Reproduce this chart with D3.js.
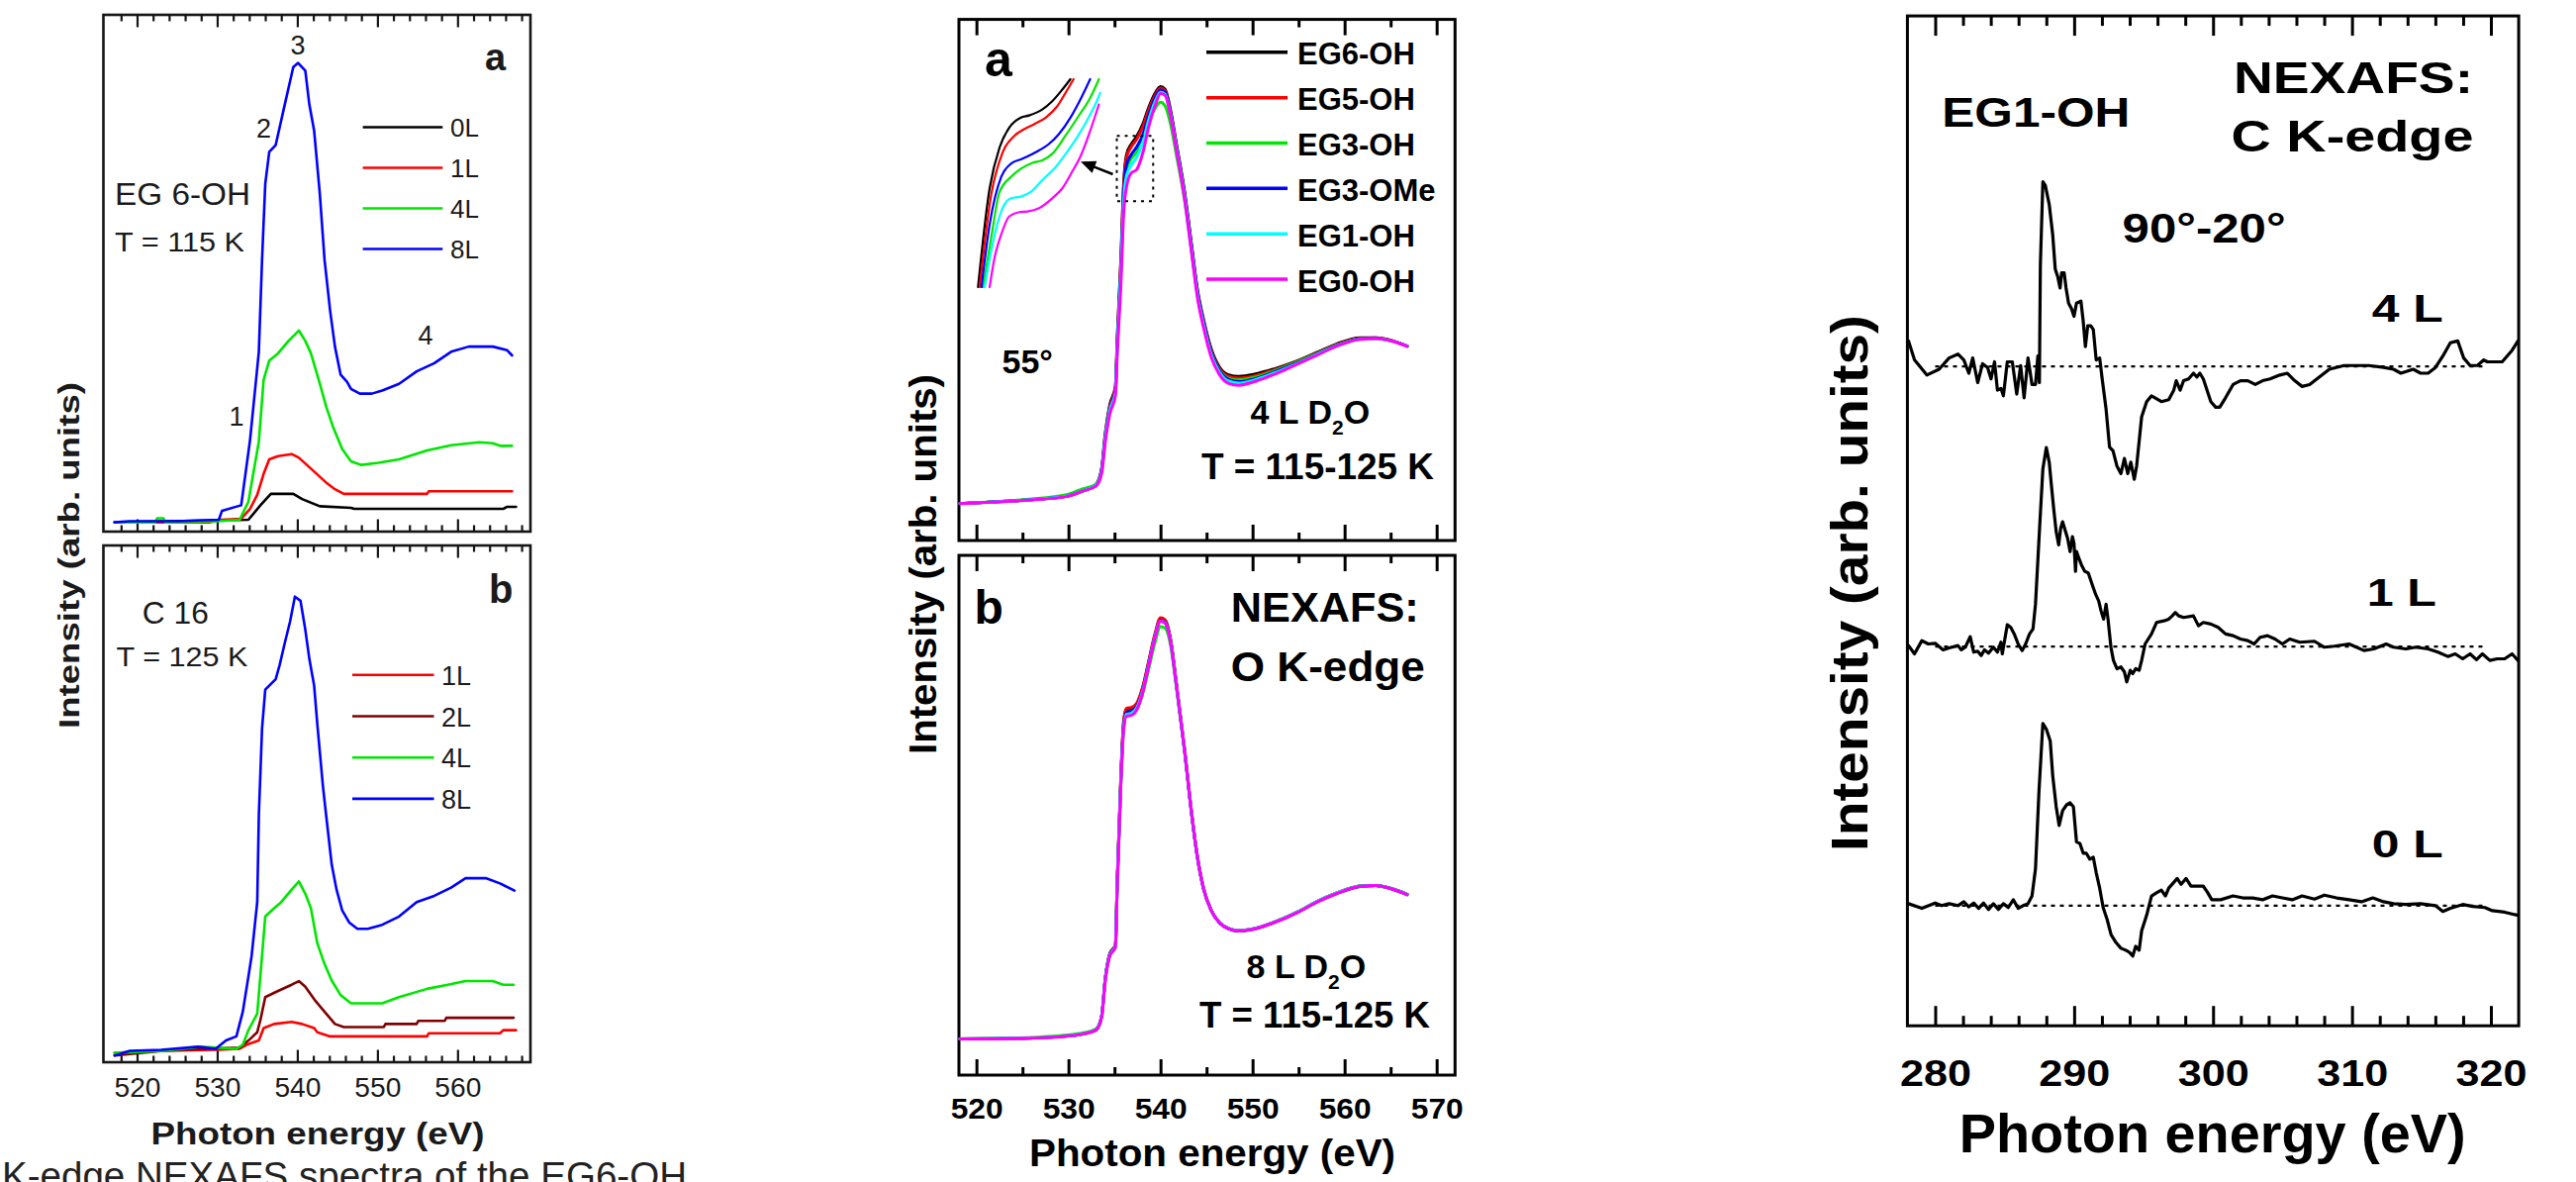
<!DOCTYPE html>
<html><head><meta charset="utf-8">
<script src="https://cdn.jsdelivr.net/npm/d3@7"></script>
<style>html,body{margin:0;padding:0;background:#fff;} svg{display:block;}</style>
</head><body>
<script>
// ================= DATA =================
// ---- Left figure: O K-edge NEXAFS, (a) EG6-OH, T=115 K ; (b) C16, T=125 K ----
const leftTopNames  = ["0L","1L","4L","8L"];
const leftTopColors = ["#000000","#ff0000","#00e600","#0000ff"];
const eg6_0L = [[517.2,1.8],[533.9,2.3],[535.4,5.1],[536.7,7.3],[539.5,7.3],[540.6,6.3],[542.8,4.9],[546.7,4.6],[547.1,4.4],[565.7,4.4],[566.2,4.8],[567.3,4.8]];
const eg6_1L = [[517.2,1.8],[529,1.8],[530.5,2.3],[533.0,2.5],[534.1,4.4],[535.0,7.1],[535.8,11.2],[536.5,14.0],[537.6,14.6],[539.3,15.0],[540.2,14.3],[541.9,11.9],[543.6,9.5],[544.7,8.2],[545.8,7.3],[556.2,7.3],[556.4,7.8],[566.8,7.8]];
const eg6_4L = [[517.2,1.8],[522.3,1.8],[522.5,2.6],[523.3,2.6],[523.5,1.8],[530,2.0],[532.8,2.3],[533.9,5.8],[534.5,11.2],[535.2,17.4],[535.8,29.4],[536.5,33.1],[537.6,34.5],[538.9,36.9],[540.2,38.9],[541.0,36.9],[541.7,34.5],[542.8,28.7],[543.6,24.2],[544.5,20.1],[545.6,16.0],[546.7,13.6],[548.0,12.9],[550.1,13.3],[552.7,14.0],[556.2,15.7],[559.2,16.7],[562.7,17.3],[564.4,17.1],[565.3,16.6],[566.8,16.6]];
const eg6_8L = [[517.2,1.8],[519,2.0],[525,2.0],[530.2,2.3],[530.6,4.0],[533.0,5.1],[534.1,17.7],[535.2,34.8],[535.6,52.6],[536.0,67.3],[536.5,73.5],[537.3,74.8],[538.4,82.4],[539.5,89.9],[540.1,90.7],[541.0,89.2],[541.5,82.7],[542.1,77.6],[542.8,65.6],[543.4,52.6],[544.1,42.7],[544.7,35.8],[545.4,30.4],[546.2,29.0],[546.7,27.6],[547.8,26.7],[549.3,26.7],[550.6,27.3],[552.7,28.6],[554.9,31.0],[557.1,32.6],[559.2,34.8],[561.4,35.8],[564.4,35.8],[566.2,35.1],[566.8,34.1]];

const leftBotNames  = ["1L","2L","4L","8L"];
const leftBotColors = ["#ff0000","#800000","#00e600","#0000ff"];
const c16_1L = [[517.2,1.8],[523.3,2.2],[529.8,2.4],[532.8,2.6],[533.7,3.4],[535.2,4.2],[535.8,6.6],[537.1,7.4],[539.3,7.8],[540.6,7.4],[542.1,6.6],[542.5,5.8],[544.1,5.0],[556.2,5.0],[556.4,5.6],[565.3,5.6],[565.7,6.2],[567.3,6.2]];
const c16_2L = [[517.2,1.3],[523.3,2.2],[528,2.6],[532.8,2.8],[533.9,4.2],[535.0,5.8],[535.4,8.2],[536.0,12.6],[537.6,13.8],[539.3,15.0],[540.2,15.7],[541,14.6],[542.3,11.8],[543.6,9.4],[544.7,7.4],[545.8,6.8],[550.8,6.8],[551,7.4],[554.9,7.4],[555.1,8.0],[558.4,8.0],[558.6,8.6],[567,8.6]];
const c16_4L = [[517.2,1.8],[523.3,2.2],[528,3.0],[532.4,2.6],[533.2,3.4],[533.9,6.2],[535.0,9.4],[535.6,20.6],[536.0,28.2],[537.1,29.8],[538,31.0],[539.3,33.4],[540.2,35.0],[541.0,32.6],[541.7,29.8],[542.5,23.0],[543.4,19.0],[544.3,15.8],[545.4,13.0],[546.7,11.4],[550.6,11.4],[552.7,12.6],[556.2,14.2],[558.8,15.0],[561,15.7],[564.4,15.7],[565.7,15.0],[567,15.0]];
const c16_8L = [[517.2,1.3],[519.1,2.2],[523,2.4],[527.6,3.0],[529.8,2.6],[531.1,4.2],[532.4,5.0],[533.2,9.8],[533.9,16.6],[534.3,20.6],[535.0,31.0],[535.2,47.8],[535.6,64.6],[536.0,72.1],[537.3,74.1],[537.8,76.9],[538.4,80.9],[539.1,85.3],[539.7,90.1],[540.4,89.3],[541.0,83.7],[541.5,78.1],[542.1,72.9],[542.5,65.4],[543.2,53.4],[543.6,47.8],[544.3,38.2],[544.9,33.4],[545.6,29.4],[546.5,27.0],[547.5,25.8],[548.8,25.8],[550.6,26.6],[552.7,28.2],[554.9,31.0],[557.1,32.2],[559.2,33.8],[561.0,35.6],[563.6,35.6],[565.3,34.6],[567.1,33.2]];
const leftTicksMajor = [520,530,540,550,560];
const leftTicksMinor = [518,522,524,526,528,532,534,536,538,542,544,546,548,552,554,556,558,562,564,566,568];

// ---- Middle figure: O K-edge, (a) 4 L D2O, (b) 8 L D2O ----
const midNames  = ["EG6-OH","EG5-OH","EG3-OH","EG3-OMe","EG1-OH","EG0-OH"];
const midColors = ["#000000","#ff0000","#00e600","#0000ff","#00ffff","#ff00ff"];
const midEnergy = [518.2,525.5,529.8,531.5,533.0,533.6,534.0,534.5,535.1,535.3,535.7,536.0,536.3,536.8,537.4,538.1,538.7,539.4,540.0,540.5,541.1,541.7,542.6,543.4,544.0,544.7,545.5,546.4,547.4,548.5,550.2,552.3,554.9,557.0,559.1,561.7,563.4,565.1,566.8];
const a_EG6OH  = [7.1,7.8,8.5,9.5,10.8,13.8,20.6,26.1,29.6,38.9,54.2,68.5,74.0,76.0,77.5,80.0,83.0,85.8,87.1,86.6,82.5,76.4,67.1,56.4,48.3,42.2,36.8,33.3,31.8,31.5,31.9,32.9,34.5,36.1,37.7,38.9,38.9,38.4,37.3];
const a_EG5OH  = [7.1,7.8,8.5,9.5,10.7,13.6,20.3,25.8,29.3,38.4,53.6,68.0,73.5,75.5,77.0,79.5,82.6,85.4,86.8,86.3,82.2,76.1,66.8,56.1,48.0,41.9,36.5,33.0,31.5,31.2,31.6,32.7,34.4,36.0,37.6,38.8,38.9,38.4,37.3];
const a_EG3OH  = [7.1,7.9,8.8,9.9,10.8,13.3,19.7,25.2,28.6,37.3,52.0,66.0,71.0,73.2,74.5,77.0,80.2,82.9,84.1,83.4,79.8,74.2,65.4,55.0,47.2,41.3,36.0,32.7,31.1,30.8,31.3,32.5,34.3,35.9,37.5,38.7,38.8,38.3,37.3];
const a_EG3OMe = [7.1,7.8,8.5,9.5,10.6,13.4,19.9,25.3,28.8,37.6,52.3,66.5,72.0,74.0,75.5,78.0,81.6,84.9,86.5,86.0,81.9,75.8,66.5,55.8,47.7,41.6,36.1,32.6,30.9,30.5,31.0,32.3,34.1,35.8,37.4,38.7,38.8,38.3,37.3];
const a_EG1OH  = [7.1,7.8,8.5,9.5,10.6,13.2,19.6,25.0,28.4,37.0,51.5,65.0,70.0,72.0,73.5,76.5,80.6,84.2,86.0,85.6,81.6,75.6,66.2,55.4,47.3,41.2,35.7,32.3,30.6,30.2,30.8,32.1,34.0,35.7,37.3,38.6,38.7,38.3,37.3];
const a_EG0OH  = [7.08,7.75,8.43,9.46,10.47,12.84,18.94,24.37,27.77,35.9,49.47,63.03,67.78,70.5,71.17,74.56,79.31,83.38,85.75,85.41,81.34,75.24,65.75,54.9,46.75,40.65,35.22,31.84,30.15,29.8,30.49,31.84,33.87,35.56,37.25,38.62,38.75,38.28,37.25];
const b_EG6OH  = [6.95,7.1,7.5,7.9,8.75,11.3,18.6,23.4,25.0,37.4,57.6,68.0,70.4,70.5,71.3,74.7,79.3,84.7,87.8,87.4,83.7,75.6,62.8,50.1,42.1,35.8,31.8,29.4,28.2,27.8,28.2,29.4,31.4,33.4,35.0,36.4,36.5,35.9,34.8];
const b_EG5OH  = [6.95,7.1,7.5,7.9,8.75,11.3,18.6,23.4,25.0,37.5,57.8,68.2,70.6,70.7,71.5,74.9,79.5,84.9,88.0,87.6,83.8,75.7,62.9,50.2,42.2,35.8,31.8,29.4,28.2,27.8,28.2,29.4,31.4,33.4,35.0,36.4,36.5,35.9,34.8];
const b_EG3OH  = [7.0,7.2,7.7,8.1,8.9,11.3,18.5,23.2,24.8,36.9,56.7,67.0,69.4,69.6,70.3,73.6,78.0,83.2,86.3,86.0,82.6,74.9,62.4,49.8,41.9,35.6,31.7,29.4,28.2,27.8,28.2,29.4,31.4,33.4,35.0,36.4,36.5,35.9,34.8];
const b_EG3OMe = [6.95,7.1,7.5,7.9,8.7,11.2,18.5,23.2,24.8,37.0,57.0,67.3,69.8,70.0,70.9,74.3,79.0,84.4,87.5,87.1,83.4,75.4,62.7,50.0,42.0,35.7,31.7,29.3,28.1,27.7,28.1,29.3,31.3,33.3,34.9,36.3,36.5,35.8,34.7];
const b_EG1OH  = [6.95,7.1,7.5,7.9,8.7,11.2,18.4,23.1,24.7,36.8,56.8,67.0,69.4,69.6,70.6,74.1,78.8,84.3,87.4,87.0,83.4,75.5,62.8,50.1,42.1,35.8,31.8,29.4,28.2,27.8,28.2,29.4,31.4,33.4,35.0,36.4,36.5,35.9,34.8];
const b_EG0OH  = [6.93,7.09,7.49,7.88,8.69,11.07,18.21,22.98,24.57,36.48,56.34,66.67,69.05,69.2,70.25,73.81,78.59,84.14,87.31,86.93,83.35,75.41,62.7,49.98,42.04,35.7,31.7,29.33,28.15,27.75,28.15,29.33,31.32,33.31,34.9,36.32,36.48,35.85,34.74];
// magnified inset of the shoulder region (energy, intensity)
const insetBoxE = [535.25, 539.2];
const insetBoxI = [65.1, 77.64];
const inset_EG6OH  = [[535.30,65.2],[535.67,71.06],[535.99,73.5],[536.30,74.67],[536.67,75.26],[536.93,75.39],[537.35,75.74],[537.67,76.23],[537.99,76.92],[538.25,77.54]];
const inset_EG5OH  = [[535.35,65.2],[535.72,70.67],[536.09,73.21],[536.46,74.18],[536.77,74.57],[537.09,74.87],[537.46,75.26],[537.83,75.94],[538.09,76.72],[538.35,77.54]];
const inset_EG3OH  = [[535.46,65.2],[535.72,68.13],[535.99,70.86],[536.35,71.74],[536.67,72.23],[537.04,72.58],[537.35,72.72],[537.67,73.11],[538.09,74.18],[538.51,75.35],[538.88,76.43],[539.16,77.54]];
const inset_EG3OMe = [[535.41,65.2],[535.67,68.91],[536.04,71.74],[536.35,72.52],[536.72,72.82],[537.14,73.21],[537.56,73.69],[537.88,74.28],[538.25,75.26],[538.62,76.53],[538.88,77.54]];
const inset_EG1OH  = [[535.51,65.2],[535.72,67.35],[536.04,69.69],[536.35,70.47],[536.67,70.57],[536.99,70.86],[537.35,71.55],[537.78,72.33],[538.14,73.21],[538.46,74.08],[538.77,75.06],[539.09,76.23],[539.20,76.72]];
const inset_EG0OH  = [[535.67,65.2],[535.83,66.96],[536.04,68.32],[536.30,69.4],[536.62,69.65],[536.88,69.69],[537.25,69.89],[537.67,70.47],[537.99,71.06],[538.30,72.03],[538.56,72.91],[538.88,74.47],[539.16,76.04]];
const midTicksMajor = [520,530,540,550,560,570];
const midTicksMinor = [525,535,545,555,565];

// ---- Right figure: C K-edge difference spectra 90°-20°, EG1-OH ----
const rightNames   = ["4 L","1 L","0 L"];
const rightOffsets = [65.3, 37.55, 11.9];
const baselineRange = [280, 319.6];
const c_4L = [[278.08,2.52],[278.51,0.64],[279.40,-0.86],[280.28,-0.29],[281.0,0.83],[281.64,1.21],[282.06,0.64],[282.42,-0.68],[282.70,0.83],[283.06,-1.61],[283.41,0.26],[283.77,-0.11],[284.02,-1.24],[284.27,0.45],[284.48,-2.36],[284.73,-2.18],[284.91,-2.92],[285.19,0.45],[285.55,0.45],[285.87,-2.74],[286.15,0.08],[286.40,-3.11],[286.68,0.83],[286.97,-1.8],[287.22,-1.8],[287.39,1.02],[287.50,-1.61],[287.57,10.02],[287.75,18.27],[287.93,17.9],[288.21,16.02],[288.46,13.02],[288.64,9.65],[288.82,8.89],[288.99,7.76],[289.10,9.27],[289.28,9.27],[289.42,7.76],[289.60,6.26],[289.81,5.71],[289.99,4.95],[290.17,6.26],[290.49,6.46],[290.66,4.39],[290.81,1.95],[290.98,4.02],[291.20,4.02],[291.38,3.65],[291.59,0.64],[291.84,0.83],[292.02,-1.24],[292.30,-4.24],[292.55,-7.99],[292.80,-8.36],[293.08,-9.86],[293.37,-10.62],[293.62,-9.12],[293.86,-10.62],[294.08,-9.49],[294.33,-11.18],[294.50,-9.86],[294.86,-4.99],[295.22,-3.49],[295.57,-2.92],[296.28,-3.49],[296.81,-3.3],[297.17,-2.36],[297.35,-1.42],[297.63,-2.36],[297.88,-1.42],[298.24,-1.24],[298.59,-0.68],[298.84,-1.05],[299.05,-0.68],[299.30,-1.24],[299.84,-3.49],[300.19,-4.05],[300.48,-4.05],[300.90,-3.11],[301.44,-1.8],[301.97,-1.42],[302.50,-1.42],[303.04,-1.8],[303.57,-1.42],[304.10,-1.24],[304.81,-0.86],[305.35,-0.68],[305.88,-1.42],[306.41,-1.99],[306.95,-1.8],[307.66,-1.05],[308.37,-0.29],[309.43,0.08],[311.21,0.08],[312.28,-0.11],[312.99,-0.29],[313.52,-0.68],[314.41,-0.29],[314.94,-0.68],[315.48,-0.68],[316.01,-0.11],[316.54,1.02],[317.08,2.33],[317.61,2.52],[318.04,0.83],[318.50,0.08],[319.03,0.08],[319.49,0.64],[319.74,0.45],[320.81,0.45],[321.52,1.58],[321.95,2.52]];
const c_1L = [[278.08,0.10],[278.51,-0.72],[279.04,0.59],[279.50,0.26],[280.0,0.33],[280.57,-0.32],[281.0,-0.13],[281.64,0.10],[281.88,-0.32],[282.17,-0.06],[282.52,0.98],[282.77,-0.55],[283.06,-0.45],[283.31,-0.88],[283.55,-0.32],[283.84,-0.65],[284.19,-0.06],[284.48,-0.55],[284.73,0.43],[284.83,-0.72],[285.19,2.16],[285.44,1.90],[285.69,1.25],[285.97,0.26],[286.26,-0.39],[286.51,0.26],[286.79,1.25],[287.04,1.74],[287.22,4.19],[287.50,11.37],[287.75,17.59],[288.0,19.71],[288.21,18.24],[288.39,15.62],[288.53,13.66],[288.71,11.37],[288.89,10.07],[289.03,11.70],[289.17,12.36],[289.35,11.54],[289.53,10.72],[289.71,9.41],[289.88,10.89],[289.99,10.23],[290.10,7.45],[290.17,9.41],[290.34,8.76],[290.52,8.11],[290.77,7.45],[291.02,7.29],[291.30,6.15],[291.55,5.17],[291.77,4.51],[291.94,3.53],[292.12,2.72],[292.30,4.19],[292.44,2.72],[292.65,-0.06],[292.83,-1.37],[293.08,-2.19],[293.37,-2.02],[293.62,-2.51],[293.79,-3.49],[294.04,-2.35],[294.22,-2.68],[294.43,-2.19],[294.68,-2.35],[294.86,-1.37],[295.11,0.26],[295.57,1.25],[295.93,2.39],[296.46,2.55],[296.81,2.72],[297.06,3.04],[297.28,3.37],[297.53,3.04],[297.88,2.88],[298.59,3.04],[298.95,2.06],[299.30,2.39],[299.84,2.23],[300.37,1.90],[300.90,1.25],[301.44,1.08],[301.97,0.75],[302.50,0.59],[302.96,0.26],[303.39,0.92],[303.92,1.08],[304.46,0.75],[304.99,0.26],[305.52,0.75],[306.24,0.43],[307.30,0.53],[308.01,-0.06],[308.72,0.04],[309.79,0.26],[310.32,-0.06],[310.86,-0.39],[311.57,-0.23],[312.46,0.26],[312.99,-0.06],[313.88,-0.23],[314.59,-0.06],[315.48,-0.23],[316.19,-0.55],[316.90,-0.98],[317.43,-0.72],[317.97,-1.21],[318.50,-0.72],[318.96,-1.30],[319.39,-0.72],[319.92,-1.37],[320.46,-1.21],[320.99,-1.21],[321.52,-0.72],[321.95,-1.37]];
const c_0L = [[278.08,0.19],[279.04,-0.27],[280.0,0.26],[280.46,0],[281.0,0.19],[281.64,0],[282.06,0.38],[282.42,-0.12],[282.77,0.26],[283.13,-0.27],[283.48,0.26],[283.84,-0.38],[284.19,0.19],[284.55,-0.38],[284.91,0.19],[285.26,-0.19],[285.62,0.58],[285.97,-0.27],[286.33,0],[286.68,0.19],[286.97,0.96],[287.22,3.65],[287.47,11.32],[287.75,18.04],[288.0,17.47],[288.28,16.31],[288.46,12.86],[288.71,9.78],[288.92,7.94],[289.17,9.40],[289.46,9.98],[289.71,10.18],[289.95,9.78],[290.17,6.33],[290.42,6.14],[290.66,5.18],[290.88,5.18],[291.13,4.60],[291.38,4.79],[291.59,3.26],[291.84,1.73],[292.09,-0.19],[292.37,-1.34],[292.66,-2.88],[293.01,-3.65],[293.37,-4.22],[293.72,-4.42],[293.97,-4.61],[294.22,-4.99],[294.43,-4.03],[294.68,-4.42],[294.86,-2.50],[295.22,-0.96],[295.57,0.96],[295.93,1.26],[296.28,1.53],[296.57,0.96],[296.81,1.73],[297.17,2.30],[297.42,2.69],[297.70,2.11],[298.06,2.69],[298.41,1.92],[298.77,1.92],[299.30,1.92],[299.59,1.34],[299.91,0.58],[300.55,0.58],[301.44,0.96],[302.15,0.76],[302.86,0.76],[303.57,0.58],[304.28,0.96],[304.99,0.76],[305.70,0.58],[306.41,0.96],[307.30,0.65],[308.01,1.04],[308.90,0.76],[309.79,0.58],[310.68,0.38],[311.50,0.76],[312.28,0.38],[312.99,0.19],[313.88,0.11],[314.94,0.19],[316.01,0],[316.54,-0.58],[317.08,-0.27],[317.97,0.11],[318.68,-0.08],[319.57,-0.19],[320.10,-0.50],[320.99,-0.65],[321.95,-0.96]];
const rightTicksMajor = [280,290,300,310,320];
const rightTicksMinor = [282,284,286,288,292,294,296,298,302,304,306,308,312,314,316,318];

// ================= DRAWING =================
const FONT = "'Liberation Sans', Arial, Helvetica, sans-serif";
const svg = d3.select("body").append("svg").attr("width",2603).attr("height",1194);
svg.append("rect").attr("width",2603).attr("height",1194).attr("fill","#fff");

function txt(x,y,s,o={}) {
  const t = svg.append("text").attr("x",x).attr("y",y).text(s)
    .attr("font-family",FONT).attr("font-size",o.fs||20).attr("font-weight",o.fw||"normal")
    .attr("fill",o.fill||"#000").attr("text-anchor",o.anchor||"start");
  if (o.tl) t.attr("textLength",o.tl).attr("lengthAdjust","spacingAndGlyphs");
  return t;
}
function vtxt(cx,cy,s,o={}) {
  const t = svg.append("text").attr("transform",`translate(${cx},${cy}) rotate(-90)`).text(s)
    .attr("font-family",FONT).attr("font-size",o.fs).attr("font-weight",o.fw||"bold")
    .attr("fill",o.fill||"#000").attr("text-anchor","middle").attr("dominant-baseline","central");
  if (o.tl) t.attr("textLength",o.tl).attr("lengthAdjust","spacingAndGlyphs");
  return t;
}
function d2o(x,y,prefix,fs,sub,tl) {
  const t = svg.append("text").attr("x",x).attr("y",y).attr("font-family",FONT)
    .attr("font-size",fs).attr("font-weight","bold").attr("fill","#000");
  t.append("tspan").text(prefix+"D");
  t.append("tspan").attr("font-size",sub).attr("dy",sub*0.5).text("2");
  t.append("tspan").attr("dy",-sub*0.5).text("O");
  return t;
}
function frame(x,y,sw,color) {
  const [x0,x1]=x.range(), [yb,yt]=y.range();
  svg.append("rect").attr("x",x0).attr("y",yt).attr("width",x1-x0).attr("height",yb-yt)
    .attr("fill","none").attr("stroke",color).attr("stroke-width",sw);
}
function ticks(x,y,majors,minors,majLen,minLen,sw,color) {
  const [yb,yt]=y.range();
  const mk=(fn,vals,len,yy)=>{
    const g=svg.append("g").attr("transform",`translate(0,${yy})`)
      .call(fn(x).tickValues(vals).tickSize(-len).tickFormat(""));
    g.select(".domain").remove();
    g.selectAll("line").attr("stroke",color).attr("stroke-width",sw);
  };
  mk(d3.axisBottom,majors,majLen,yb); mk(d3.axisBottom,minors,minLen,yb);
  mk(d3.axisTop,majors,majLen,yt);    mk(d3.axisTop,minors,minLen,yt);
}
function tickLabels(x,yBase,majors,fs,fw,tl,fill) {
  const g=svg.append("g").attr("transform",`translate(0,${yBase})`)
    .call(d3.axisBottom(x).tickValues(majors).tickSize(0).tickPadding(0).tickFormat(d3.format("d")));
  g.select(".domain").remove();
  g.selectAll("text").attr("y",0).attr("dy",null).attr("font-family",FONT).attr("font-size",fs)
    .attr("font-weight",fw).attr("fill",fill||"#000").attr("textLength",tl).attr("lengthAdjust","spacingAndGlyphs");
}
function path(data,x,y,color,sw,curve) {
  svg.append("path").datum(data).attr("fill","none").attr("stroke",color).attr("stroke-width",sw)
    .attr("stroke-linejoin","round").attr("stroke-linecap","round")
    .attr("d",d3.line().x(d=>x(d[0])).y(d=>y(d[1])).curve(curve||d3.curveLinear));
}

// ---------- LEFT FIGURE ----------
const xL = d3.scaleLinear().domain([515.8,569.1]).range([104.5,536]);
const yLa = d3.scaleLinear().domain([0,100]).range([537,15]);
const yLb = d3.scaleLinear().domain([0,100]).range([1073,551]);
const LC = "#151515";
[yLa,yLb].forEach(y=>{ frame(xL,y,2.6,LC); ticks(xL,y,leftTicksMajor,leftTicksMinor,12.5,6.5,2.2,LC); });
[eg6_0L,eg6_1L,eg6_4L,eg6_8L].forEach((d,i)=>path(d,xL,yLa,leftTopColors[i],2.6));
[c16_1L,c16_2L,c16_4L,c16_8L].forEach((d,i)=>path(d,xL,yLb,leftBotColors[i],2.6));
tickLabels(xL,1108,leftTicksMajor,27,"normal",47,"#1a1a1a");
txt(321,1156,"Photon energy (eV)",{fs:31,fw:"bold",anchor:"middle",tl:337,fill:"#1a1a1a"});
vtxt(69,561,"Intensity (arb. units)",{fs:30,tl:350,fill:"#1a1a1a"});
// annotations panel a
txt(490,71,"a",{fs:38,fw:"bold",fill:"#1a1a1a"});
txt(301,55,"3",{fs:27,anchor:"middle",fill:"#1a1a1a"});
txt(266.5,139,"2",{fs:27,anchor:"middle",fill:"#1a1a1a"});
txt(239,430,"1",{fs:27,anchor:"middle",fill:"#1a1a1a"});
txt(430,348,"4",{fs:27,anchor:"middle",fill:"#1a1a1a"});
txt(116,207,"EG 6-OH",{fs:32,tl:137,fill:"#1a1a1a"});
txt(116,253.5,"T = 115 K",{fs:28,tl:131,fill:"#1a1a1a"});
leftTopNames.forEach((n,i)=>{
  const yy=128.5+i*41;
  svg.append("line").attr("x1",366.6).attr("x2",447.3).attr("y1",yy).attr("y2",yy).attr("stroke",leftTopColors[i]).attr("stroke-width",2.6);
  txt(455,yy+9.5,n,{fs:26,fill:"#1a1a1a"});
});
// annotations panel b
txt(494,609,"b",{fs:40,fw:"bold",fill:"#1a1a1a"});
txt(143.8,629.7,"C 16",{fs:32,tl:67,fill:"#1a1a1a"});
txt(117.5,673.4,"T = 125 K",{fs:28,tl:133,fill:"#1a1a1a"});
leftBotNames.forEach((n,i)=>{
  const yy=681.8+i*41.7;
  svg.append("line").attr("x1",356).attr("x2",438.5).attr("y1",yy).attr("y2",yy).attr("stroke",leftBotColors[i]).attr("stroke-width",2.6);
  txt(446,yy+10,n,{fs:27,fill:"#1a1a1a"});
});
// cut-off caption
txt(2,1201,"K-edge NEXAFS spectra of the EG6-OH",{fs:38,tl:692,fill:"#222"});

// ---------- MIDDLE FIGURE ----------
const xM = d3.scaleLinear().domain([518.1,572.0]).range([969,1470.3]);
const yMa = d3.scaleLinear().domain([0,100]).range([546,19.6]);
const yMb = d3.scaleLinear().domain([0,100]).range([1086,561]);
[yMa,yMb].forEach(y=>{ frame(xM,y,3,"#000"); ticks(xM,y,midTicksMajor,midTicksMinor,16,8,3,"#000"); });
const midA=[a_EG6OH,a_EG5OH,a_EG3OH,a_EG3OMe,a_EG1OH,a_EG0OH];
const midB=[b_EG6OH,b_EG5OH,b_EG3OH,b_EG3OMe,b_EG1OH,b_EG0OH];
midA.forEach((vals,i)=>path(midEnergy.map((e,k)=>[e,vals[k]]),xM,yMa,midColors[i],3,d3.curveMonotoneX));
midB.forEach((vals,i)=>path(midEnergy.map((e,k)=>[e,vals[k]]),xM,yMb,midColors[i],3,d3.curveMonotoneX));
// inset
const xI = d3.scaleLinear().domain(insetBoxE).range([986.7,1111.7]);
const yI = d3.scaleLinear().domain(insetBoxI).range([291.7,78.3]);
[inset_EG6OH,inset_EG5OH,inset_EG3OH,inset_EG3OMe,inset_EG1OH,inset_EG0OH]
  .forEach((d,i)=>path(d,xI,yI,midColors[i],2.2,d3.curveMonotoneX));
svg.append("rect").attr("x",xM(insetBoxE[0])).attr("y",yMa(insetBoxI[1]))
  .attr("width",xM(insetBoxE[1])-xM(insetBoxE[0])).attr("height",yMa(insetBoxI[0])-yMa(insetBoxI[1]))
  .attr("fill","none").attr("stroke","#000").attr("stroke-width",2).attr("stroke-dasharray","3,5");
{ // arrow from box toward inset
  const x1=xM(insetBoxE[0])-4, y1=176, x2=1092, y2=163.3;
  const ang=Math.atan2(y2-y1,x2-x1), L=15, Wd=6.5;
  svg.append("line").attr("x1",x1).attr("y1",y1).attr("x2",x2+Math.cos(ang)*-L*0.8).attr("y2",y2+Math.sin(ang)*-L*0.8)
    .attr("stroke","#000").attr("stroke-width",2.5);
  const bx=x2-Math.cos(ang)*L, by=y2-Math.sin(ang)*L;
  svg.append("path").attr("d",`M${x2},${y2}L${bx-Math.sin(ang)*Wd},${by+Math.cos(ang)*Wd}L${bx+Math.sin(ang)*Wd},${by-Math.cos(ang)*Wd}Z`).attr("fill","#000");
}
midNames.forEach((n,i)=>{
  const yy=52.8+i*45.84;
  svg.append("line").attr("x1",1219).attr("x2",1301).attr("y1",yy).attr("y2",yy).attr("stroke",midColors[i]).attr("stroke-width",3.5);
  txt(1311,yy+12.5,n,{fs:31,fw:"bold"});
});
tickLabels(xM,1130,midTicksMajor,30,"bold",53);
txt(1225,1178,"Photon energy (eV)",{fs:38,fw:"bold",anchor:"middle",tl:370});
vtxt(932,570,"Intensity (arb. units)",{fs:39,tl:384});
txt(995,77,"a",{fs:50,fw:"bold"});
txt(1012.5,376.6,"55°",{fs:34,fw:"bold"});
d2o(1263.5,428.4,"4 L ",34,21);
txt(1214,483.7,"T = 115-125 K",{fs:36,fw:"bold",tl:235});
txt(984.5,629.7,"b",{fs:48,fw:"bold"});
txt(1243.8,627.6,"NEXAFS:",{fs:42,fw:"bold",tl:190});
txt(1243.8,688,"O K-edge",{fs:42,fw:"bold",tl:196});
d2o(1259.6,988,"8 L ",34,21);
txt(1212,1038,"T = 115-125 K",{fs:36,fw:"bold",tl:233});

// ---------- RIGHT FIGURE ----------
const xR = d3.scaleLinear().domain([278,322]).range([1927.4,2545.1]);
const yR = d3.scaleLinear().domain([0,100]).range([1036.2,16.1]);
frame(xR,yR,3,"#000");
ticks(xR,yR,rightTicksMajor,rightTicksMinor,20,10,3,"#000");
[c_4L,c_1L,c_0L].forEach((d,i)=>{
  const off=rightOffsets[i];
  svg.append("line").attr("x1",xR(baselineRange[0])).attr("x2",xR(baselineRange[1]))
    .attr("y1",yR(off)).attr("y2",yR(off)).attr("stroke","#000").attr("stroke-width",2.2).attr("stroke-dasharray","4,5");
  path(d.map(p=>[p[0],p[1]+off]),xR,yR,"#000",3.2);
});
tickLabels(xR,1097,rightTicksMajor,37,"bold",72);
txt(2235.7,1163.5,"Photon energy (eV)",{fs:55,fw:"bold",anchor:"middle",tl:512});
vtxt(1868.7,589,"Intensity (arb. units)",{fs:52,tl:542});
txt(1962.3,128.2,"EG1-OH",{fs:43,fw:"bold",tl:190});
txt(2257,93.8,"NEXAFS:",{fs:45,fw:"bold",tl:242});
txt(2254.5,153.1,"C K-edge",{fs:45,fw:"bold",tl:245});
txt(2144.6,244.9,"90°-20°",{fs:42,fw:"bold",tl:165});
txt(2396.8,325.3,rightNames[0],{fs:38,fw:"bold",tl:72});
txt(2391.8,611.7,rightNames[1],{fs:38,fw:"bold",tl:70});
txt(2396.8,865.9,rightNames[2],{fs:38,fw:"bold",tl:72});
</script>
</body></html>
